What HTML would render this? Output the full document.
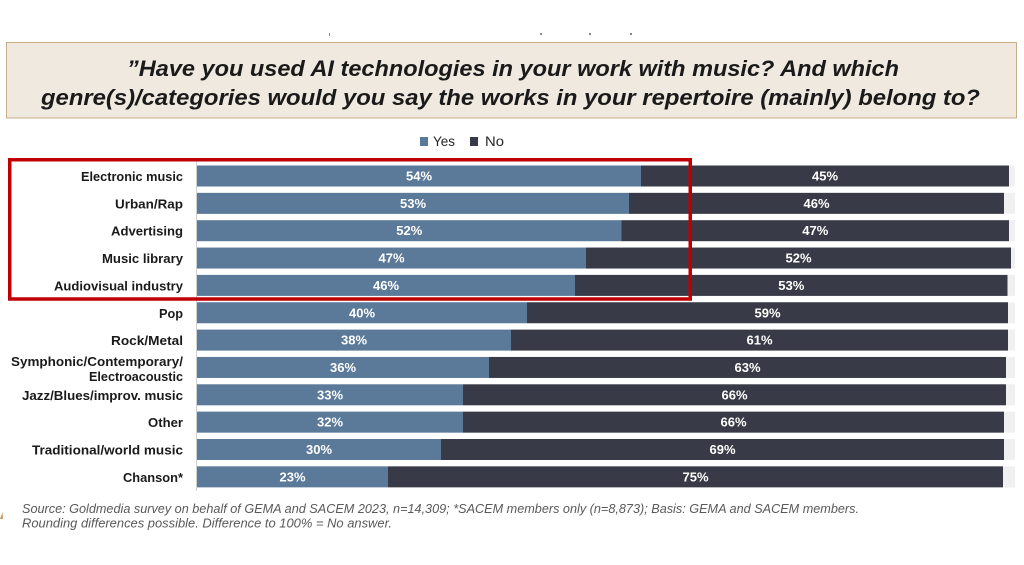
<!DOCTYPE html>
<html>
<head>
<meta charset="utf-8">
<style>
  html, body { margin:0; padding:0; background:#ffffff; }
  body { width:1024px; height:565px; overflow:hidden; }
  svg { display:block; }
  .lbl { font-family:"Liberation Sans", sans-serif; font-weight:bold; font-size:13px; fill:#1a1a1a; }
  .pct { font-family:"Liberation Sans", sans-serif; font-weight:bold; font-size:13px; fill:#ffffff; }
</style>
</head>
<body>
<svg width="1024" height="565" viewBox="0 0 1024 565" xmlns="http://www.w3.org/2000/svg">
  <rect x="0" y="0" width="1024" height="565" fill="#ffffff"/>
  <!-- tiny cut-off marks at top -->
  <rect x="329" y="33" width="1" height="3" fill="#888"/>
  <rect x="540" y="33" width="2" height="2" fill="#888"/>
  <rect x="589" y="33" width="2" height="2" fill="#888"/>
  <rect x="630" y="33" width="2" height="2" fill="#888"/>

  <!-- Title box -->
  <rect x="6.5" y="42.5" width="1010" height="75.5" fill="#efe9e0" stroke="#c8ad88" stroke-width="1"/>
  <text x="127" y="76" font-family="Liberation Sans, sans-serif" font-weight="bold" font-style="italic" font-size="22" fill="#1a1a1a" textLength="772" lengthAdjust="spacingAndGlyphs">”Have you used AI technologies in your work with music? And which</text>
  <text x="41" y="105" font-family="Liberation Sans, sans-serif" font-weight="bold" font-style="italic" font-size="22" fill="#1a1a1a" textLength="939" lengthAdjust="spacingAndGlyphs">genre(s)/categories would you say the works in your repertoire (mainly) belong to?</text>

  <!-- Legend -->
  <rect x="420" y="137" width="8" height="9" fill="#5b7a99"/>
  <text x="433" y="146" font-family="Liberation Sans, sans-serif" font-size="14" fill="#262626" textLength="22" lengthAdjust="spacingAndGlyphs">Yes</text>
  <rect x="470" y="137" width="8" height="9" fill="#383b47"/>
  <text x="485" y="146" font-family="Liberation Sans, sans-serif" font-size="14" fill="#262626" textLength="19" lengthAdjust="spacingAndGlyphs">No</text>

  <!-- No-answer light backgrounds -->
  <g fill="#f0f0f0">
    <rect x="197" y="165.5" width="818" height="21"/>
    <rect x="197" y="192.85" width="818" height="21"/>
    <rect x="197" y="220.2" width="818" height="21"/>
    <rect x="197" y="247.55" width="818" height="21"/>
    <rect x="197" y="274.9" width="818" height="21"/>
    <rect x="197" y="302.25" width="818" height="21"/>
    <rect x="197" y="329.6" width="818" height="21"/>
    <rect x="197" y="356.95" width="818" height="21"/>
    <rect x="197" y="384.3" width="818" height="21"/>
    <rect x="197" y="411.65" width="818" height="21"/>
    <rect x="197" y="439" width="818" height="21"/>
    <rect x="197" y="466.35" width="818" height="21"/>
  </g>

  <!-- No bars -->
  <g fill="#383b47">
    <rect x="641" y="165.5" width="368" height="21"/>
    <rect x="629" y="192.85" width="375" height="21"/>
    <rect x="621.5" y="220.2" width="387.5" height="21"/>
    <rect x="586" y="247.55" width="425" height="21"/>
    <rect x="575" y="274.9" width="432.5" height="21"/>
    <rect x="527" y="302.25" width="481" height="21"/>
    <rect x="511" y="329.6" width="497" height="21"/>
    <rect x="489" y="356.95" width="517" height="21"/>
    <rect x="463" y="384.3" width="543" height="21"/>
    <rect x="463" y="411.65" width="541" height="21"/>
    <rect x="441" y="439" width="563" height="21"/>
    <rect x="388" y="466.35" width="615" height="21"/>
  </g>

  <!-- Yes bars -->
  <g fill="#5b7a99">
    <rect x="197" y="165.5" width="444" height="21"/>
    <rect x="197" y="192.85" width="432" height="21"/>
    <rect x="197" y="220.2" width="424.5" height="21"/>
    <rect x="197" y="247.55" width="389" height="21"/>
    <rect x="197" y="274.9" width="378" height="21"/>
    <rect x="197" y="302.25" width="330" height="21"/>
    <rect x="197" y="329.6" width="314" height="21"/>
    <rect x="197" y="356.95" width="292" height="21"/>
    <rect x="197" y="384.3" width="266" height="21"/>
    <rect x="197" y="411.65" width="266" height="21"/>
    <rect x="197" y="439" width="244" height="21"/>
    <rect x="197" y="466.35" width="191" height="21"/>
  </g>

  <!-- Axis line -->
  <rect x="196" y="160" width="1" height="331" fill="#d0d0d0"/>

  <!-- Yes percentages -->
  <g class="pct" text-anchor="middle">
    <text x="419" y="180.5">54%</text>
    <text x="413" y="207.85">53%</text>
    <text x="409.25" y="235.2">52%</text>
    <text x="391.5" y="262.55">47%</text>
    <text x="386" y="289.9">46%</text>
    <text x="362" y="317.25">40%</text>
    <text x="354" y="344.6">38%</text>
    <text x="343" y="371.95">36%</text>
    <text x="330" y="399.3">33%</text>
    <text x="330" y="426.65">32%</text>
    <text x="319" y="454">30%</text>
    <text x="292.5" y="481.35">23%</text>
  </g>

  <!-- No percentages -->
  <g class="pct" text-anchor="middle">
    <text x="825" y="180.5">45%</text>
    <text x="816.5" y="207.85">46%</text>
    <text x="815.25" y="235.2">47%</text>
    <text x="798.5" y="262.55">52%</text>
    <text x="791.25" y="289.9">53%</text>
    <text x="767.5" y="317.25">59%</text>
    <text x="759.5" y="344.6">61%</text>
    <text x="747.5" y="371.95">63%</text>
    <text x="734.5" y="399.3">66%</text>
    <text x="733.5" y="426.65">66%</text>
    <text x="722.5" y="454">69%</text>
    <text x="695.5" y="481.35">75%</text>
  </g>

  <!-- Category labels -->
  <g class="lbl" text-anchor="end">
    <text x="183" y="181" textLength="102" lengthAdjust="spacingAndGlyphs">Electronic music</text>
    <text x="183" y="208.35" textLength="68" lengthAdjust="spacingAndGlyphs">Urban/Rap</text>
    <text x="183" y="235.7" textLength="72" lengthAdjust="spacingAndGlyphs">Advertising</text>
    <text x="183" y="263.05" textLength="81" lengthAdjust="spacingAndGlyphs">Music library</text>
    <text x="183" y="290.4" textLength="129" lengthAdjust="spacingAndGlyphs">Audiovisual industry</text>
    <text x="183" y="317.75" textLength="24" lengthAdjust="spacingAndGlyphs">Pop</text>
    <text x="183" y="345.1" textLength="72" lengthAdjust="spacingAndGlyphs">Rock/Metal</text>
    <text x="183" y="366" textLength="172" lengthAdjust="spacingAndGlyphs">Symphonic/Contemporary/</text>
    <text x="183" y="381" textLength="94" lengthAdjust="spacingAndGlyphs">Electroacoustic</text>
    <text x="183" y="399.8" textLength="161" lengthAdjust="spacingAndGlyphs">Jazz/Blues/improv. music</text>
    <text x="183" y="427.15" textLength="35" lengthAdjust="spacingAndGlyphs">Other</text>
    <text x="183" y="454.5" textLength="151" lengthAdjust="spacingAndGlyphs">Traditional/world music</text>
    <text x="183" y="481.85" textLength="60" lengthAdjust="spacingAndGlyphs">Chanson*</text>
  </g>

  <!-- Red highlight box -->
  <rect x="9.75" y="159.75" width="680.5" height="139.25" fill="none" stroke="#c00000" stroke-width="3.5"/>

  <!-- Footnote -->
  <text x="22" y="513" font-family="Liberation Sans, sans-serif" font-style="italic" font-size="12.5" fill="#595959" textLength="837" lengthAdjust="spacingAndGlyphs">Source: Goldmedia survey on behalf of GEMA and SACEM 2023, n=14,309; *SACEM members only (n=8,873); Basis: GEMA and SACEM members.</text>
  <text x="22" y="527.5" font-family="Liberation Sans, sans-serif" font-style="italic" font-size="12.5" fill="#595959" textLength="370" lengthAdjust="spacingAndGlyphs">Rounding differences possible. Difference to 100% = No answer.</text>

  <!-- small mark at left edge -->
  <path d="M0,519 L2.5,512 L3,519 Z" fill="#c89a5a"/>
</svg>
</body>
</html>
